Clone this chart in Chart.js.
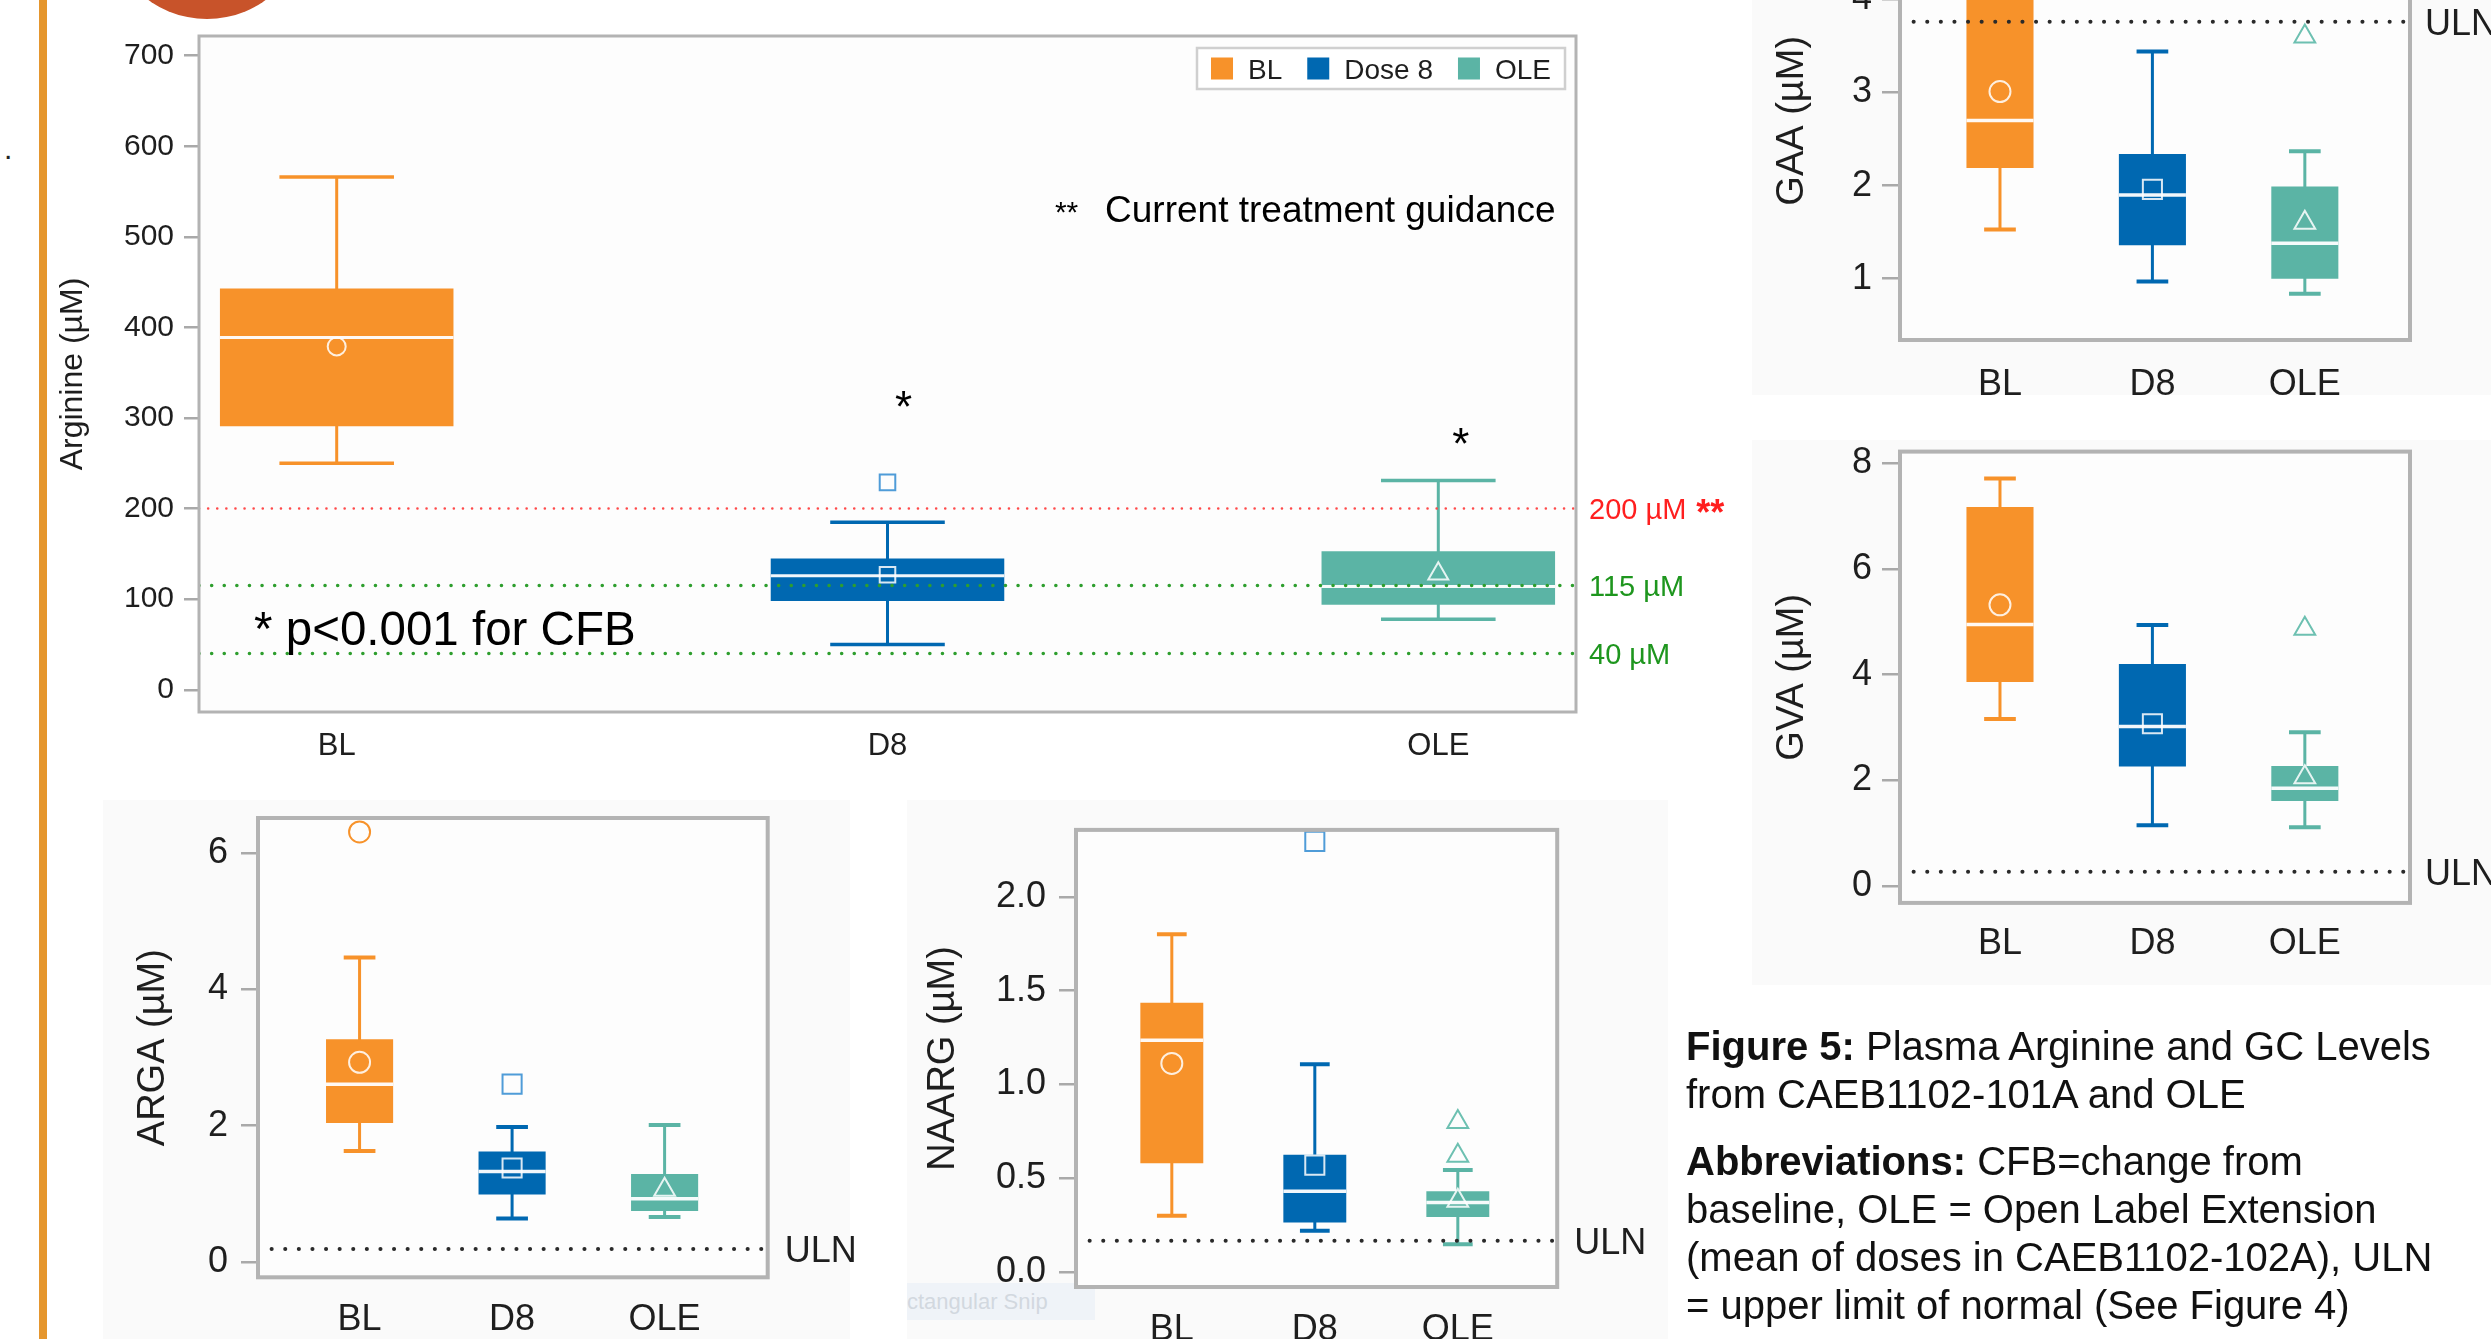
<!DOCTYPE html>
<html lang="en">
<head>
<meta charset="utf-8">
<title>Figure 5: Plasma Arginine and GC Levels</title>
<script src="https://cdn.jsdelivr.net/npm/chart.js@4.4.1/dist/chart.umd.min.js"></script>
<style>
html,body{margin:0;padding:0;}
body{width:2491px;height:1339px;position:relative;overflow:hidden;background:#ffffff;font-family:"Liberation Sans",Arial,Helvetica,sans-serif;color:#111;}
.abs{position:absolute;}
canvas{position:absolute;}
#orangeBar{left:39px;top:0;width:8px;height:1339px;background:#E5962E;}
#redCircle{left:107px;top:-181px;width:200px;height:200px;border-radius:50%;background:#C8532A;}
#dot{left:4px;top:132px;font-size:30px;color:#222;}
.panelBg{background:#fafafa;}
#caption{left:1686px;top:1022px;font-size:40px;line-height:48px;white-space:nowrap;color:#111;}
#caption p{margin:0;}
#caption p+p{margin-top:19px;}
#snip{left:907px;top:1283px;width:188px;height:37px;background:rgba(226,236,246,0.45);color:#d2d8df;font-size:22px;line-height:37px;overflow:hidden;white-space:nowrap;}
</style>
</head>
<body>
<div id="orangeBar" class="abs"></div>
<div id="redCircle" class="abs"></div>
<div id="dot" class="abs">.</div>
<div class="abs panelBg" style="left:1752px;top:0;width:739px;height:395px;"></div>
<div class="abs panelBg" style="left:1752px;top:440px;width:739px;height:545px;"></div>
<div class="abs panelBg" style="left:103px;top:800px;width:747px;height:539px;"></div>
<div class="abs panelBg" style="left:907px;top:800px;width:761px;height:539px;"></div>
<div id="snip" class="abs">ctangular Snip</div>

<canvas id="cArg"   width="1700" height="790" style="left:50px;top:0px;"></canvas>
<canvas id="cGAA"   width="751"  height="550" style="left:1740px;top:-130px;"></canvas>
<canvas id="cGVA"   width="751"  height="560" style="left:1740px;top:420px;"></canvas>
<canvas id="cARGA"  width="780"  height="559" style="left:100px;top:780px;"></canvas>
<canvas id="cNAARG" width="790"  height="559" style="left:900px;top:780px;"></canvas>

<div id="caption" class="abs">
<p><b>Figure 5:</b> Plasma Arginine and GC Levels<br>from CAEB1102-101A and OLE</p>
<p><b>Abbreviations:</b> CFB=change from<br>baseline, OLE = Open Label Extension<br>(mean of doses in CAEB1102-102A), ULN<br>= upper limit of normal (See Figure 4)</p>
</div>

<script>
// ---------------- DATA ----------------
const categories  = ['BL', 'D8', 'OLE'];
const seriesNames = ['BL', 'Dose 8', 'OLE'];

// Arginine (µM)
const argWhiskerLow  = [250, 50, 78];
const argQ1          = [291, 98, 94];
const argMedian      = [389, 126, 114];
const argQ3          = [443, 145, 153];
const argWhiskerHigh = [566, 185, 231];
const argMean        = [379, 127, 128];
const argOutliers    = [[], [229], []];
const argTicks       = [0, 100, 200, 300, 400, 500, 600, 700];
const argRefValues   = [200, 115, 40];
const argRefLabels   = ['200 µM', '115 µM', '40 µM'];

// GAA (µM)
const gaaWhiskerLow  = [1.53, 0.97, 0.84];
const gaaQ1          = [2.19, 1.36, 1.00];
const gaaMedian      = [2.70, 1.90, 1.38];
const gaaQ3          = [4.35, 2.34, 1.99];
const gaaWhiskerHigh = [4.90, 3.44, 2.37];
const gaaMean        = [3.01, 1.96, 1.60];
const gaaOutliers    = [[], [], [3.60]];
const gaaTicks       = [1, 2, 3, 4];
const gaaULN         = 3.76;

// GVA (µM)
const gvaWhiskerLow  = [3.16, 1.15, 1.11];
const gvaQ1          = [3.86, 2.26, 1.61];
const gvaMedian      = [4.95, 3.02, 1.85];
const gvaQ3          = [7.17, 4.20, 2.27];
const gvaWhiskerHigh = [7.71, 4.94, 2.91];
const gvaMean        = [5.32, 3.07, 2.06];
const gvaOutliers    = [[], [], [4.87]];
const gvaTicks       = [0, 2, 4, 6, 8];
const gvaULN         = 0.27;

// ARGA (µM)
const argaWhiskerLow  = [1.63, 0.64, 0.66];
const argaQ1          = [2.04, 0.99, 0.75];
const argaMedian      = [2.61, 1.33, 0.93];
const argaQ3          = [3.27, 1.62, 1.29];
const argaWhiskerHigh = [4.47, 1.98, 2.01];
const argaMean        = [2.93, 1.38, 1.06];
const argaOutliers    = [[6.31], [2.61], []];
const argaTicks       = [0, 2, 4, 6];
const argaULN         = 0.19;

// NAARG (µM)
const naargWhiskerLow  = [0.30, 0.22, 0.148];
const naargQ1          = [0.58, 0.264, 0.293];
const naargMedian      = [1.236, 0.43, 0.37];
const naargQ3          = [1.435, 0.625, 0.43];
const naargWhiskerHigh = [1.80, 1.108, 0.544];
const naargMean        = [1.112, 0.57, 0.38];
const naargOutliers    = [[], [2.296], [0.80, 0.62]];
const naargTicks       = [0.0, 0.5, 1.0, 1.5, 2.0];
const naargULN         = 0.167;

// ---------------- STYLE ----------------
const FONT = '"Liberation Sans", Arial, Helvetica, sans-serif';
const BOX_COLORS     = ['#F7922A', '#0068B1', '#5BB4A5'];
const OUTLIER_COLORS = ['#F7922A', '#4F9CD8', '#6DC0B1'];
const SHAPES         = ['circle', 'rect', 'triangle'];
const MEDIAN_COLOR   = 'rgba(255,255,255,0.95)';
const MEAN_COLOR     = 'rgba(255,255,255,0.85)';
const TEXT_COLOR     = '#1e1e1e';
const FRAME_COLOR    = '#b3b3b3';

Chart.defaults.font.family = FONT;
Chart.defaults.color = TEXT_COLOR;

// ---------------- PLUGINS ----------------
const panelFrame = {
  id: 'panelFrame',
  beforeDraw(chart, args, o) {
    const a = chart.chartArea, ctx = chart.ctx;
    ctx.save();
    ctx.fillStyle = o.fill;
    ctx.fillRect(a.left, a.top, a.right - a.left, a.bottom - a.top);
    ctx.restore();
  },
  afterDatasetsDraw(chart, args, o) {
    const a = chart.chartArea, ctx = chart.ctx;
    ctx.save();
    ctx.strokeStyle = o.color;
    ctx.lineWidth = o.width;
    ctx.strokeRect(a.left, a.top, a.right - a.left, a.bottom - a.top);
    ctx.restore();
  }
};

const refLabels = {
  id: 'refLabels',
  afterDraw(chart, args, o) {
    const ctx = chart.ctx, a = chart.chartArea, ys = chart.scales.y;
    chart.data.datasets.forEach(ds => {
      if (!ds.isRef || !ds.refLabel) return;
      let x = a.right + o.offset;
      const y = ys.getPixelForValue(ds.data[0].y);
      ds.refLabel.forEach(p => {
        ctx.save();
        ctx.font = (p.bold ? 'bold ' : '') + p.size + 'px ' + FONT;
        ctx.fillStyle = p.color;
        ctx.textAlign = 'left';
        ctx.textBaseline = 'alphabetic';
        x += (p.gap || 0);
        ctx.fillText(p.text, x, y + (p.dy !== undefined ? p.dy : 0.36 * p.size));
        x += ctx.measureText(p.text).width;
        ctx.restore();
      });
    });
  }
};

const notes = {
  id: 'notes',
  afterDraw(chart, args, o) {
    if (!o || !o.items) return;
    const ctx = chart.ctx, xs = chart.scales.x, ys = chart.scales.y;
    o.items.forEach(n => {
      ctx.save();
      ctx.font = (n.bold ? 'bold ' : '') + n.size + 'px ' + FONT;
      ctx.fillStyle = n.color || '#000';
      ctx.textAlign = n.align || 'left';
      ctx.textBaseline = 'alphabetic';
      ctx.fillText(n.text, xs.getPixelForValue(n.x), ys.getPixelForValue(n.y));
      ctx.restore();
    });
  }
};

const boxLegend = {
  id: 'boxLegend',
  afterDraw(chart, args, o) {
    if (!o || !o.show) return;
    const ctx = chart.ctx, a = chart.chartArea;
    const items = chart.data.datasets.filter(d => d.isBox);
    ctx.save();
    ctx.font = o.fontSize + 'px ' + FONT;
    const widths = items.map(d => ctx.measureText(d.label).width);
    let total = o.pad * 2 + o.itemGap * (items.length - 1);
    items.forEach((d, i) => { total += o.box + o.textGap + widths[i]; });
    const right = a.right - o.marginRight, left = right - total, top = a.top + o.marginTop;
    ctx.fillStyle = o.bg;
    ctx.fillRect(left, top, total, o.height);
    ctx.strokeStyle = o.border;
    ctx.lineWidth = o.borderWidth;
    ctx.strokeRect(left, top, total, o.height);
    let x = left + o.pad;
    const cy = top + o.height / 2;
    items.forEach((d, i) => {
      ctx.fillStyle = d.backgroundColor;
      ctx.fillRect(x, cy - o.box / 2, o.box, o.box);
      x += o.box + o.textGap;
      ctx.fillStyle = TEXT_COLOR;
      ctx.textAlign = 'left';
      ctx.textBaseline = 'alphabetic';
      ctx.fillText(d.label, x, cy + 0.36 * o.fontSize);
      x += widths[i] + o.itemGap;
    });
    ctx.restore();
  }
};

// ---------------- BUILDER ----------------
function makeChart(canvasId, d, s) {
  const datasets = [];
  categories.forEach((cat, i) => {
    datasets.push({
      type: 'bar', label: seriesNames[i], isBox: true,
      data: [{x: i, y: [d.q1[i], d.q3[i]]}],
      backgroundColor: BOX_COLORS[i], borderWidth: 0,
      grouped: false, barPercentage: s.boxWidth, categoryPercentage: 1, order: 4
    });
    datasets.push({
      type: 'line', data: [{x: i, y: d.low[i]}, {x: i, y: d.high[i]}],
      borderColor: BOX_COLORS[i], borderWidth: s.whiskerWidth, pointRadius: 0, order: 5
    });
    datasets.push({
      type: 'line',
      data: [{x: i - s.capHalf, y: d.low[i]}, {x: i + s.capHalf, y: d.low[i]}, {x: i, y: null},
             {x: i - s.capHalf, y: d.high[i]}, {x: i + s.capHalf, y: d.high[i]}],
      borderColor: BOX_COLORS[i], borderWidth: s.capWidth, pointRadius: 0, spanGaps: false, order: 5
    });
    datasets.push({
      type: 'line', data: [{x: i - s.boxWidth / 2, y: d.med[i]}, {x: i + s.boxWidth / 2, y: d.med[i]}],
      borderColor: MEDIAN_COLOR, borderWidth: s.medianWidth, pointRadius: 0, order: 3
    });
    datasets.push({
      type: 'scatter', data: [{x: i, y: d.mean[i]}],
      pointStyle: SHAPES[i], pointRadius: s.markerRadius[i], borderColor: MEAN_COLOR,
      backgroundColor: 'rgba(0,0,0,0)', borderWidth: s.markerWidth, order: 2
    });
    if (d.outliers[i].length) {
      datasets.push({
        type: 'scatter', data: d.outliers[i].map(v => ({x: i, y: v})),
        pointStyle: SHAPES[i], pointRadius: s.markerRadius[i], borderColor: OUTLIER_COLORS[i],
        backgroundColor: 'rgba(0,0,0,0)', borderWidth: s.markerWidth, order: 2
      });
    }
  });
  d.refs.forEach(r => {
    datasets.push({
      type: 'line', isRef: true, refLabel: r.label,
      data: [{x: s.xMin, y: r.value}, {x: s.xMax, y: r.value}],
      borderColor: r.color, borderWidth: r.width, borderDash: r.dash, borderCapStyle: 'round',
      pointRadius: 0, order: 0
    });
  });

  new Chart(document.getElementById(canvasId), {
    type: 'bar',
    data: {datasets},
    options: {
      responsive: false, animation: false, devicePixelRatio: 1, events: [],
      layout: {padding: s.padding},
      scales: {
        x: {
          type: 'linear', min: s.xMin, max: s.xMax, offset: false,
          afterBuildTicks: ax => { ax.ticks = categories.map((c, i) => ({value: i})); },
          afterFit: ax => { ax.height = s.xAxisHeight; },
          grid: {display: false}, border: {display: false},
          ticks: {autoSkip: false, maxRotation: 0, padding: s.xPadding, color: TEXT_COLOR,
                  font: {size: s.xFont}, callback: v => categories[Math.round(v)]}
        },
        y: {
          type: 'linear', min: s.yMin, max: s.yMax,
          afterBuildTicks: ax => { ax.ticks = d.ticks.map(v => ({value: v})); },
          afterFit: ax => { ax.width = s.yAxisWidth; },
          grid: {drawOnChartArea: false, drawTicks: true, tickLength: s.tickLength, color: '#a9a9a9', lineWidth: 2.5},
          border: {display: false},
          ticks: {autoSkip: false, padding: s.tickPadding, color: TEXT_COLOR, font: {size: s.tickFont},
                  callback: v => s.decimals ? Number(v).toFixed(s.decimals) : String(v)},
          title: {display: true, text: d.title, color: TEXT_COLOR, font: {size: s.titleFont},
                  padding: {top: s.titlePad, bottom: 0}}
        }
      },
      plugins: {
        legend: {display: false}, tooltip: {enabled: false},
        panelFrame: {color: FRAME_COLOR, width: s.frameWidth, fill: '#fdfdfd'},
        refLabels: {offset: s.refLabelOffset},
        notes: {items: s.notes || []},
        boxLegend: s.legend || {show: false}
      }
    },
    plugins: [panelFrame, refLabels, notes, boxLegend]
  });
}

function ulnRef(value) {
  return {value, color: '#2a2a2a', width: 4, dash: [0.1, 13.5],
          label: [{text: 'ULN', color: TEXT_COLOR, size: 36}]};
}

const smallStyle = {
  boxWidth: 0.44, capHalf: 0.104, whiskerWidth: 3, capWidth: 4, medianWidth: 3.5,
  markerRadius: [10.5, 13.5, 12], markerWidth: 2,
  tickFont: 36, xFont: 36, titleFont: 38, frameWidth: 4, refLabelOffset: 15
};

// Arginine
makeChart('cArg', {
  low: argWhiskerLow, q1: argQ1, med: argMedian, q3: argQ3, high: argWhiskerHigh,
  mean: argMean, outliers: argOutliers, ticks: argTicks, title: 'Arginine (µM)',
  refs: [
    {value: argRefValues[0], color: '#FF4A4A', width: 2.5, dash: [0.1, 9],
     label: [{text: argRefLabels[0], color: '#FF1F1F', size: 29},
             {text: '**', color: '#FF1F1F', size: 36, bold: true, gap: 10, dy: 16}]},
    {value: argRefValues[1], color: '#2E9E2E', width: 3.5, dash: [0.1, 12.5],
     label: [{text: argRefLabels[1], color: '#1E961E', size: 29}]},
    {value: argRefValues[2], color: '#2E9E2E', width: 3.5, dash: [0.1, 12.5],
     label: [{text: argRefLabels[2], color: '#1E961E', size: 29}]}
  ]
}, {
  xMin: -0.25, xMax: 2.25, yMin: -24.5, yMax: 721.7,
  boxWidth: 0.424, capHalf: 0.104, whiskerWidth: 3, capWidth: 3.5, medianWidth: 3,
  markerRadius: [9, 11, 11.5], markerWidth: 2,
  tickFont: 30, xFont: 31, titleFont: 32, frameWidth: 3,
  yAxisWidth: 149, xAxisHeight: 78, padding: {left: 0, top: 36, right: 174, bottom: 0},
  tickLength: 15, tickPadding: 10, xPadding: 8, titlePad: 3.8, refLabelOffset: 13,
  legend: {show: true, pad: 14, box: 22, textGap: 15, itemGap: 25, height: 41,
           marginRight: 11, marginTop: 12, fontSize: 28, bg: '#ffffff', border: '#cfcfcf', borderWidth: 2.5},
  notes: [
    {text: '*', x: 1.029, y: 296, size: 44, align: 'center'},
    {text: '*', x: 2.041, y: 255, size: 44, align: 'center'},
    {text: '**', x: 1.304, y: 516, size: 30},
    {text: 'Current treatment guidance', x: 1.395, y: 516, size: 37},
    {text: '* p<0.001 for CFB', x: -0.150, y: 49.4, size: 47.5}
  ]
});

// GAA
makeChart('cGAA', {
  low: gaaWhiskerLow, q1: gaaQ1, med: gaaMedian, q3: gaaQ3, high: gaaWhiskerHigh,
  mean: gaaMean, outliers: gaaOutliers, ticks: gaaTicks, title: 'GAA (µM)',
  refs: [ulnRef(gaaULN)]
}, Object.assign({}, smallStyle, {
  xMin: -0.656, xMax: 2.69, yMin: 0.342, yMax: 5.05,
  yAxisWidth: 160, xAxisHeight: 80, padding: {left: 0, top: 24.2, right: 81, bottom: 0},
  tickLength: 18, tickPadding: 10, xPadding: 15, titlePad: 30.2
}));

// GVA
makeChart('cGVA', {
  low: gvaWhiskerLow, q1: gvaQ1, med: gvaMedian, q3: gvaQ3, high: gvaWhiskerHigh,
  mean: gvaMean, outliers: gvaOutliers, ticks: gvaTicks, title: 'GVA (µM)',
  refs: [ulnRef(gvaULN)]
}, Object.assign({}, smallStyle, {
  xMin: -0.656, xMax: 2.69, yMin: -0.32, yMax: 8.22,
  yAxisWidth: 160, xAxisHeight: 77.1, padding: {left: 0, top: 31.4, right: 81, bottom: 0},
  tickLength: 18, tickPadding: 10, xPadding: 11.5, titlePad: 30.2
}));

// ARGA
makeChart('cARGA', {
  low: argaWhiskerLow, q1: argaQ1, med: argaMedian, q3: argaQ3, high: argaWhiskerHigh,
  mean: argaMean, outliers: argaOutliers, ticks: argaTicks, title: 'ARGA (µM)',
  refs: [ulnRef(argaULN)]
}, Object.assign({}, smallStyle, {
  xMin: -0.666, xMax: 2.676, yMin: -0.224, yMax: 6.515,
  yAxisWidth: 158, xAxisHeight: 61.7, padding: {left: 0, top: 38, right: 112.3, bottom: 0},
  tickLength: 17, tickPadding: 13, xPadding: 13, titlePad: 31.2, refLabelOffset: 17
}));

// NAARG
makeChart('cNAARG', {
  low: naargWhiskerLow, q1: naargQ1, med: naargMedian, q3: naargQ3, high: naargWhiskerHigh,
  mean: naargMean, outliers: naargOutliers, ticks: naargTicks, title: 'NAARG (µM)',
  refs: [ulnRef(naargULN)]
}, Object.assign({}, smallStyle, {
  xMin: -0.67, xMax: 2.695, yMin: -0.08, yMax: 2.357, decimals: 1,
  yAxisWidth: 176, xAxisHeight: 52, padding: {left: 0, top: 49.9, right: 132.8, bottom: 0},
  tickLength: 17, tickPadding: 13, xPadding: 13.4, titlePad: 20.9, refLabelOffset: 17
}));
</script>
</body>
</html>
